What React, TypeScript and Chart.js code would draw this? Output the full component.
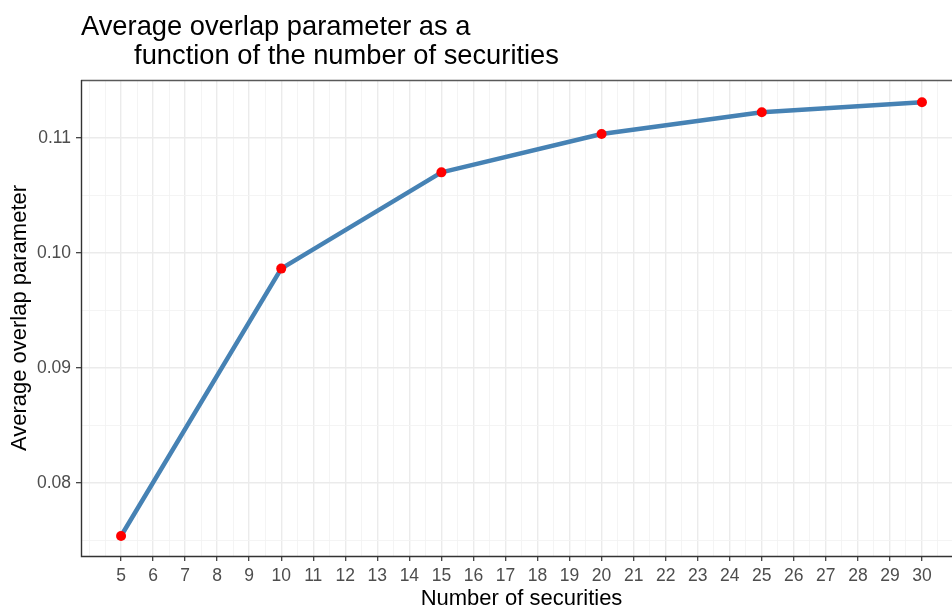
import React, { useEffect, useRef } from "react";
import { Chart, registerables } from "chart.js";

Chart.register(...registerables);

// ---- data ----
const titleLines = [
  "Average overlap parameter as a",
  "       function of the number of securities",
];
const xAxisTitle = "Number of securities";
const yAxisTitle = "Average overlap parameter";

const securities = [5, 10, 15, 20, 25, 30];
const overlap = [0.07537, 0.09862, 0.10699, 0.11032, 0.11221, 0.11308];

const xTicks = [5, 6, 7, 8, 9, 10, 11, 12, 13, 14, 15, 16, 17, 18, 19, 20, 21, 22, 23, 24, 25, 26, 27, 28, 29, 30];
const yTicks = [0.08, 0.09, 0.1, 0.11];

const xLimits = [3.75, 31.25];
const yLimits = [0.07363, 0.11502];

// ---- helpers ----
const FAMILY = "'Liberation Sans', Arial, Helvetica, sans-serif";

function withMinor(major: number[], lim: number[]): number[] {
  const step = major[1] - major[0];
  const ext = [major[0] - step, ...major, major[major.length - 1] + step];
  const out: number[] = [];
  for (let i = 0; i < ext.length; i++) {
    out.push(ext[i]);
    if (i < ext.length - 1) out.push((ext[i] + ext[i + 1]) / 2);
  }
  return out.filter((v) => v >= lim[0] && v <= lim[1]);
}

function isMajor(v: number, majors: number[]): boolean {
  return majors.some((m) => Math.abs(m - v) < 1e-9);
}

const xAll = withMinor(xTicks, xLimits);
const yAll = withMinor(yTicks, yLimits);

const titlePlugin = {
  id: "ggTitle",
  afterDraw(chart: any) {
    const ctx = chart.ctx;
    ctx.save();
    ctx.font = `27.3px ${FAMILY}`;
    ctx.fillStyle = "#000000";
    ctx.textAlign = "left";
    ctx.textBaseline = "alphabetic";
    const x = chart.chartArea.left;
    ctx.fillText(titleLines[0], x, 34.5);
    ctx.fillText(titleLines[1], x, 63.5);
    ctx.restore();
  },
};

const framePlugin = {
  id: "ggFrame",
  afterDraw(chart: any) {
    const { ctx, chartArea } = chart;
    const { left, right, top, bottom } = chartArea;
    ctx.save();
    ctx.lineWidth = 1.4;
    ctx.strokeStyle = "#595959";
    ctx.beginPath();
    ctx.moveTo(left, top + 0.5);
    ctx.lineTo(right, top + 0.5);
    ctx.moveTo(right - 0.5, top);
    ctx.lineTo(right - 0.5, bottom);
    ctx.stroke();
    ctx.strokeStyle = "#333333";
    ctx.beginPath();
    ctx.moveTo(left + 0.5, top);
    ctx.lineTo(left + 0.5, bottom + 0.5);
    ctx.lineTo(right, bottom + 0.5);
    ctx.stroke();
    ctx.restore();
  },
};

export default function App() {
  const canvasRef = useRef<HTMLCanvasElement | null>(null);

  useEffect(() => {
    if (!canvasRef.current) return;
    const gridColor = (majors: number[]) => (c: any) =>
      c.tick && isMajor(c.tick.value, majors) ? "#EBEBEB" : "#F3F3F3";
    const gridWidth = (majors: number[]) => (c: any) =>
      c.tick && isMajor(c.tick.value, majors) ? 1.4 : 0.9;
    const tickColor = (majors: number[]) => (c: any) =>
      c.tick && isMajor(c.tick.value, majors) ? "#333333" : "rgba(0,0,0,0)";

    const chart = new Chart(canvasRef.current, {
      type: "line",
      data: {
        datasets: [
          {
            data: securities.map((x, i) => ({ x, y: overlap[i] })),
            borderColor: "#4682B4",
            borderWidth: 4.5,
            borderCapStyle: "round",
            borderJoinStyle: "round",
            pointBackgroundColor: "#FF0000",
            pointBorderColor: "#FF0000",
            pointBorderWidth: 0,
            pointRadius: 5,
            pointHoverRadius: 5,
            tension: 0,
            fill: false,
          },
        ],
      },
      options: {
        animation: false,
        responsive: false,
        maintainAspectRatio: false,
        events: [],
        layout: { padding: { top: 80, left: 0, right: 8, bottom: 0 } },
        plugins: {
          legend: { display: false },
          tooltip: { enabled: false },
          title: { display: false },
        },
        scales: {
          x: {
            type: "linear",
            min: xLimits[0],
            max: xLimits[1],
            afterBuildTicks: (s: any) => {
              s.ticks = xAll.map((v) => ({ value: v }));
            },
            afterFit: (s: any) => {
              s.height = 52;
            },
            ticks: {
              autoSkip: false,
              maxRotation: 0,
              minRotation: 0,
              padding: 5,
              color: "#4D4D4D",
              font: { family: FAMILY, size: 17.5 },
              callback: (v: any) => (isMajor(Number(v), xTicks) ? String(Math.round(Number(v))) : ""),
            },
            grid: {
              color: gridColor(xTicks),
              lineWidth: gridWidth(xTicks),
              drawTicks: true,
              tickLength: 5,
              tickColor: tickColor(xTicks),
              tickWidth: 1.2,
            },
            border: { display: false },
            title: {
              display: true,
              text: xAxisTitle,
              color: "#000000",
              font: { family: FAMILY, size: 22, lineHeight: 1 },
              padding: { top: 0, bottom: -2 },
            },
          },
          y: {
            type: "linear",
            min: yLimits[0],
            max: yLimits[1],
            afterBuildTicks: (s: any) => {
              s.ticks = yAll.map((v) => ({ value: v }));
            },
            afterFit: (s: any) => {
              s.width = 81;
            },
            ticks: {
              autoSkip: false,
              padding: 5,
              color: "#4D4D4D",
              font: { family: FAMILY, size: 17.5 },
              callback: (v: any) => (isMajor(Number(v), yTicks) ? Number(v).toFixed(2) : ""),
            },
            grid: {
              color: gridColor(yTicks),
              lineWidth: gridWidth(yTicks),
              drawTicks: true,
              tickLength: 5,
              tickColor: tickColor(yTicks),
              tickWidth: 1.2,
            },
            border: { display: false },
            title: {
              display: true,
              text: yAxisTitle,
              color: "#000000",
              font: { family: FAMILY, size: 22, lineHeight: 1 },
              padding: { top: 9, bottom: 0 },
            },
          },
        },
      },
      plugins: [titlePlugin, framePlugin],
    } as any);

    return () => chart.destroy();
  }, []);

  return (
    <div
      style={{
        position: "fixed",
        left: 0,
        top: 0,
        width: 952,
        height: 608,
        overflow: "hidden",
        background: "#ffffff",
      }}
    >
      <canvas ref={canvasRef} width={970} height={608} style={{ display: "block", width: 970, height: 608 }} />
    </div>
  );
}
